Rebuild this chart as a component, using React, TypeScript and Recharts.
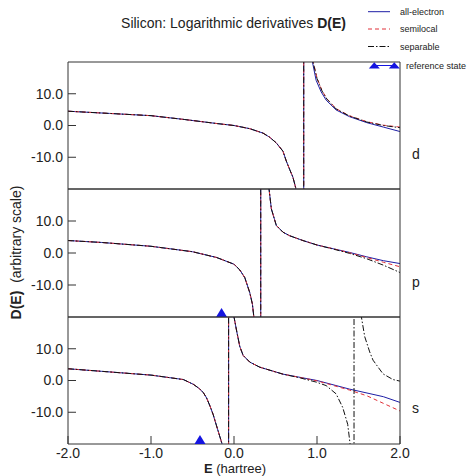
import React from 'react';
import { ComposedChart, Line, Scatter, XAxis, YAxis } from 'recharts';

const FONT = '"Liberation Sans", Arial, Helvetica, sans-serif';
const FRAME = '#333';
const TEXT = '#222';
const AE_COLOR = '#1e1ea6';
const SL_COLOR = '#e03038';
const SEP_COLOR = '#111';
const REF_COLOR = '#1414e0';

const xDomain = [-2, 2];
const yDomain = [-20, 20];
const yTicks = [-10, 0, 10];
const xInnerTicks = [-1, 0, 1];
const xLabelTicks = [-2, -1, 0, 1, 2];
const panelNames = ['d', 'p', 's'];
const legendLabels = ['all-electron', 'semilocal', 'separable', 'reference state'];

// ---- d channel ----
const dAllElectron = [
  { e: -2.0, d: 4.5 }, { e: -1.5, d: 3.8 }, { e: -1.0, d: 3.1 }, { e: -0.6, d: 1.9 },
  { e: -0.2, d: 0.6 }, { e: 0.0, d: 0.0 }, { e: 0.19, d: -1.0 }, { e: 0.35, d: -2.4 },
  { e: 0.43, d: -3.7 }, { e: 0.51, d: -5.5 }, { e: 0.59, d: -8.1 }, { e: 0.63, d: -11.2 },
  { e: 0.67, d: -13.8 }, { e: 0.71, d: -16.3 }, { e: 0.743, d: -19.6 }, { e: 0.79, d: -30 },
  { e: 0.84, d: -45 }, { e: 0.84, d: 45 }, { e: 0.9, d: 30 }, { e: 0.945, d: 20 },
  { e: 0.99, d: 14.2 }, { e: 1.05, d: 10.6 }, { e: 1.11, d: 8.0 }, { e: 1.23, d: 4.9 },
  { e: 1.39, d: 2.8 }, { e: 1.6, d: 0.9 }, { e: 1.8, d: -0.5 }, { e: 2.0, d: -1.9 },
];
const dSemilocal = [
  { e: -2.0, d: 4.5 }, { e: -1.5, d: 3.8 }, { e: -1.0, d: 3.1 }, { e: -0.6, d: 1.9 },
  { e: -0.2, d: 0.6 }, { e: 0.0, d: 0.0 }, { e: 0.19, d: -1.0 }, { e: 0.35, d: -2.4 },
  { e: 0.43, d: -3.7 }, { e: 0.51, d: -5.5 }, { e: 0.59, d: -8.1 }, { e: 0.63, d: -11.2 },
  { e: 0.67, d: -13.8 }, { e: 0.71, d: -16.3 }, { e: 0.743, d: -19.6 }, { e: 0.79, d: -30 },
  { e: 0.84, d: -45 }, { e: 0.84, d: 45 }, { e: 0.9, d: 31 }, { e: 0.955, d: 20 },
  { e: 1.0, d: 15.0 }, { e: 1.06, d: 11.0 }, { e: 1.12, d: 8.4 }, { e: 1.23, d: 5.3 },
  { e: 1.39, d: 3.1 }, { e: 1.6, d: 1.2 }, { e: 1.8, d: 0.1 }, { e: 2.0, d: -0.5 },
];
const dSeparable = [
  { e: -2.0, d: 4.5 }, { e: -1.5, d: 3.8 }, { e: -1.0, d: 3.1 }, { e: -0.6, d: 1.9 },
  { e: -0.2, d: 0.6 }, { e: 0.0, d: 0.0 }, { e: 0.19, d: -1.0 }, { e: 0.35, d: -2.4 },
  { e: 0.43, d: -3.7 }, { e: 0.51, d: -5.5 }, { e: 0.59, d: -8.1 }, { e: 0.63, d: -11.2 },
  { e: 0.67, d: -13.8 }, { e: 0.71, d: -16.3 }, { e: 0.743, d: -19.6 }, { e: 0.79, d: -30 },
  { e: 0.84, d: -45 }, { e: 0.84, d: 45 }, { e: 0.9, d: 31 }, { e: 0.952, d: 20 },
  { e: 1.0, d: 14.8 }, { e: 1.06, d: 10.9 }, { e: 1.12, d: 8.3 }, { e: 1.23, d: 5.2 },
  { e: 1.39, d: 3.0 }, { e: 1.6, d: 1.1 }, { e: 1.8, d: 0.0 }, { e: 2.0, d: -0.7 },
];

// ---- p channel ----
const pAllElectron = [
  { e: -2.0, d: 3.9 }, { e: -1.6, d: 3.3 }, { e: -1.0, d: 2.1 }, { e: -0.5, d: 0.4 },
  { e: -0.21, d: -1.4 }, { e: 0.0, d: -3.5 }, { e: 0.07, d: -5.3 }, { e: 0.13, d: -7.7 },
  { e: 0.19, d: -12.4 }, { e: 0.222, d: -16.0 }, { e: 0.24, d: -20.2 }, { e: 0.28, d: -35 },
  { e: 0.322, d: -50 }, { e: 0.322, d: 50 }, { e: 0.38, d: 32 }, { e: 0.422, d: 20 },
  { e: 0.45, d: 13.8 }, { e: 0.51, d: 8.6 }, { e: 0.59, d: 6.5 }, { e: 0.67, d: 5.4 },
  { e: 0.83, d: 3.9 }, { e: 1.0, d: 2.5 }, { e: 1.2, d: 1.3 }, { e: 1.39, d: 0.2 },
  { e: 1.6, d: -1.2 }, { e: 1.8, d: -2.4 }, { e: 2.0, d: -3.3 },
];
const pSemilocal = [
  { e: -2.0, d: 3.9 }, { e: -1.6, d: 3.3 }, { e: -1.0, d: 2.1 }, { e: -0.5, d: 0.4 },
  { e: -0.21, d: -1.4 }, { e: 0.0, d: -3.5 }, { e: 0.07, d: -5.3 }, { e: 0.13, d: -7.7 },
  { e: 0.19, d: -12.4 }, { e: 0.222, d: -16.0 }, { e: 0.24, d: -20.2 }, { e: 0.28, d: -35 },
  { e: 0.322, d: -50 }, { e: 0.322, d: 50 }, { e: 0.38, d: 32 }, { e: 0.422, d: 20 },
  { e: 0.45, d: 13.8 }, { e: 0.51, d: 8.6 }, { e: 0.59, d: 6.5 }, { e: 0.67, d: 5.4 },
  { e: 0.83, d: 3.9 }, { e: 1.0, d: 2.5 }, { e: 1.2, d: 1.3 }, { e: 1.39, d: 0.1 },
  { e: 1.6, d: -1.4 }, { e: 1.8, d: -2.9 }, { e: 2.0, d: -4.3 },
];
const pSeparable = [
  { e: -2.0, d: 3.9 }, { e: -1.6, d: 3.3 }, { e: -1.0, d: 2.1 }, { e: -0.5, d: 0.4 },
  { e: -0.21, d: -1.4 }, { e: 0.0, d: -3.5 }, { e: 0.07, d: -5.3 }, { e: 0.13, d: -7.7 },
  { e: 0.19, d: -12.4 }, { e: 0.222, d: -16.0 }, { e: 0.24, d: -20.2 }, { e: 0.28, d: -35 },
  { e: 0.322, d: -50 }, { e: 0.322, d: 50 }, { e: 0.38, d: 32 }, { e: 0.422, d: 20 },
  { e: 0.45, d: 13.8 }, { e: 0.51, d: 8.6 }, { e: 0.59, d: 6.5 }, { e: 0.67, d: 5.4 },
  { e: 0.83, d: 3.9 }, { e: 1.0, d: 2.5 }, { e: 1.2, d: 1.2 }, { e: 1.39, d: -0.1 },
  { e: 1.6, d: -1.8 }, { e: 1.8, d: -3.8 }, { e: 2.0, d: -6.1 },
];

// ---- s channel ----
const sAllElectron = [
  { e: -2.0, d: 3.7 }, { e: -1.6, d: 2.9 }, { e: -1.0, d: 1.7 }, { e: -0.61, d: 0.3 },
  { e: -0.49, d: -1.2 }, { e: -0.42, d: -2.5 }, { e: -0.37, d: -3.8 }, { e: -0.33, d: -5.5 },
  { e: -0.29, d: -8.0 }, { e: -0.25, d: -10.8 }, { e: -0.21, d: -14.3 }, { e: -0.175, d: -17.3 },
  { e: -0.14, d: -20.3 }, { e: -0.1, d: -32 }, { e: -0.065, d: -50 }, { e: -0.065, d: 50 },
  { e: -0.03, d: 32 }, { e: 0.0, d: 20 }, { e: 0.035, d: 15.2 }, { e: 0.07, d: 10.7 },
  { e: 0.11, d: 7.9 }, { e: 0.19, d: 5.8 }, { e: 0.31, d: 4.2 }, { e: 0.59, d: 2.0 },
  { e: 1.0, d: 0.0 }, { e: 1.39, d: -2.7 }, { e: 1.8, d: -5.1 }, { e: 2.0, d: -6.9 },
];
const sSemilocal = [
  { e: -2.0, d: 3.7 }, { e: -1.6, d: 2.9 }, { e: -1.0, d: 1.7 }, { e: -0.61, d: 0.3 },
  { e: -0.49, d: -1.2 }, { e: -0.42, d: -2.5 }, { e: -0.37, d: -3.8 }, { e: -0.33, d: -5.5 },
  { e: -0.29, d: -8.0 }, { e: -0.25, d: -10.8 }, { e: -0.21, d: -14.3 }, { e: -0.175, d: -17.3 },
  { e: -0.14, d: -20.3 }, { e: -0.1, d: -32 }, { e: -0.065, d: -50 }, { e: -0.065, d: 50 },
  { e: -0.03, d: 32 }, { e: 0.0, d: 20 }, { e: 0.035, d: 15.2 }, { e: 0.07, d: 10.7 },
  { e: 0.11, d: 7.9 }, { e: 0.19, d: 5.8 }, { e: 0.31, d: 4.2 }, { e: 0.59, d: 2.0 },
  { e: 1.0, d: -0.1 }, { e: 1.39, d: -3.0 }, { e: 1.6, d: -4.8 }, { e: 1.8, d: -7.2 },
  { e: 2.0, d: -9.6 },
];
const sSeparable = [
  { e: -2.0, d: 3.7 }, { e: -1.6, d: 2.9 }, { e: -1.0, d: 1.7 }, { e: -0.61, d: 0.3 },
  { e: -0.49, d: -1.2 }, { e: -0.42, d: -2.5 }, { e: -0.37, d: -3.8 }, { e: -0.33, d: -5.5 },
  { e: -0.29, d: -8.0 }, { e: -0.25, d: -10.8 }, { e: -0.21, d: -14.3 }, { e: -0.175, d: -17.3 },
  { e: -0.14, d: -20.3 }, { e: -0.1, d: -32 }, { e: -0.065, d: -50 }, { e: -0.065, d: 50 },
  { e: -0.03, d: 32 }, { e: 0.0, d: 20 }, { e: 0.035, d: 15.2 }, { e: 0.07, d: 10.7 },
  { e: 0.11, d: 7.9 }, { e: 0.19, d: 5.8 }, { e: 0.31, d: 4.2 }, { e: 0.59, d: 2.0 },
  { e: 0.8, d: 0.8 }, { e: 0.99, d: -0.5 }, { e: 1.11, d: -1.6 }, { e: 1.23, d: -4.2 },
  { e: 1.31, d: -8.5 }, { e: 1.37, d: -13.8 }, { e: 1.40, d: -20.3 }, { e: 1.42, d: -32 },
  { e: 1.446, d: -50 }, { e: 1.446, d: 50 }, { e: 1.49, d: 32 }, { e: 1.535, d: 20 },
  { e: 1.575, d: 13.8 }, { e: 1.635, d: 9.0 }, { e: 1.675, d: 6.4 }, { e: 1.795, d: 2.1 },
  { e: 1.915, d: 0.3 }, { e: 2.0, d: -0.2 },
];

// reference state energies
const dReference: { e: number; d: number }[] = [];
const pReference = [{ e: -0.15, d: -20 }];
const sReference = [{ e: -0.41, d: -20 }];

const fmt = (v: number) => v.toFixed(1);

const Triangle = (props: any) => {
  const { cx, cy } = props;
  if (cx == null || cy == null) return null;
  return (
    <polygon
      points={`${cx - 5.5},${cy} ${cx + 5.5},${cy} ${cx},${cy - 9}`}
      fill={REF_COLOR}
    />
  );
};

type PanelProps = {
  top: number;
  plotHeight: number;
  showXLabels: boolean;
  ae: { e: number; d: number }[];
  sl: { e: number; d: number }[];
  sep: { e: number; d: number }[];
  refs: { e: number; d: number }[];
};

function Panel({ top, plotHeight, showXLabels, ae, sl, sep, refs }: PanelProps) {
  const topH = 10;
  const bottomH = showXLabels ? 32 : 10;
  const tickStyle = { fontSize: 14, fill: TEXT, fontFamily: FONT };
  return (
    <div style={{ position: 'absolute', left: 0, top: top - topH }}>
      <ComposedChart
        width={472}
        height={topH + plotHeight + bottomH}
        margin={{ top: 0, right: 0, bottom: 0, left: 0 }}
      >
        <XAxis
          xAxisId="b"
          dataKey="e"
          type="number"
          domain={xDomain}
          allowDataOverflow
          ticks={showXLabels ? xLabelTicks : xInnerTicks}
          interval={0}
          orientation="bottom"
          height={bottomH}
          tickSize={-8}
          tickMargin={12}
          tick={showXLabels ? tickStyle : false}
          tickFormatter={fmt}
          stroke={FRAME}
        />
        <XAxis
          xAxisId="t"
          type="number"
          domain={xDomain}
          allowDataOverflow
          ticks={xInnerTicks}
          interval={0}
          orientation="top"
          height={topH}
          tickSize={-8}
          tick={false}
          stroke={FRAME}
        />
        <YAxis
          yAxisId="l"
          dataKey="d"
          type="number"
          domain={yDomain}
          allowDataOverflow
          ticks={yTicks}
          interval={0}
          width={68}
          tickSize={-8}
          tickMargin={13}
          tick={tickStyle}
          tickFormatter={fmt}
          stroke={FRAME}
        />
        <YAxis
          yAxisId="r"
          orientation="right"
          type="number"
          domain={yDomain}
          allowDataOverflow
          ticks={yTicks}
          interval={0}
          width={72}
          tickSize={-8}
          tick={false}
          stroke={FRAME}
        />
        <Line
          xAxisId="b"
          yAxisId="l"
          data={ae}
          dataKey="d"
          type="linear"
          stroke={AE_COLOR}
          strokeWidth={1}
          dot={false}
          activeDot={false}
          isAnimationActive={false}
        />
        <Line
          xAxisId="b"
          yAxisId="l"
          data={sl}
          dataKey="d"
          type="linear"
          stroke={SL_COLOR}
          strokeWidth={1}
          strokeDasharray="4 3"
          dot={false}
          activeDot={false}
          isAnimationActive={false}
        />
        <Line
          xAxisId="b"
          yAxisId="l"
          data={sep}
          dataKey="d"
          type="linear"
          stroke={SEP_COLOR}
          strokeWidth={1}
          strokeDasharray="6 2 1.5 2"
          dot={false}
          activeDot={false}
          isAnimationActive={false}
        />
        {refs.length > 0 && (
          <Scatter
            xAxisId="b"
            yAxisId="l"
            data={refs}
            dataKey="d"
            shape={Triangle}
            isAnimationActive={false}
          />
        )}
      </ComposedChart>
    </div>
  );
}

export default function App() {
  const legendX0 = 368;
  const legendX1 = 390;
  const legendTextX = 400;
  const legendRows = [11.7, 29, 46.5];
  return (
    <div
      style={{
        position: 'absolute',
        left: 0,
        top: 0,
        width: 472,
        height: 476,
        background: '#fff',
        fontFamily: FONT,
        overflow: 'hidden',
      }}
    >
      <Panel top={62} plotHeight={127} showXLabels={false} ae={dAllElectron} sl={dSemilocal} sep={dSeparable} refs={dReference} />
      <Panel top={189} plotHeight={128} showXLabels={false} ae={pAllElectron} sl={pSemilocal} sep={pSeparable} refs={pReference} />
      <Panel top={317} plotHeight={127} showXLabels={true} ae={sAllElectron} sl={sSemilocal} sep={sSeparable} refs={sReference} />
      <svg
        width={472}
        height={476}
        style={{ position: 'absolute', left: 0, top: 0, pointerEvents: 'none' }}
        fontFamily={FONT}
      >
        <text x={233.5} y={28} textAnchor="middle" fontSize={14} fill={TEXT}>
          Silicon: Logarithmic derivatives <tspan fontWeight="bold">D(E)</tspan>
        </text>
        {/* legend */}
        <line x1={legendX0} x2={legendX1} y1={legendRows[0]} y2={legendRows[0]} stroke={AE_COLOR} strokeWidth={1} />
        <line x1={legendX0} x2={legendX1} y1={legendRows[1]} y2={legendRows[1]} stroke={SL_COLOR} strokeWidth={1} strokeDasharray="4 3" />
        <line x1={legendX0} x2={legendX1} y1={legendRows[2]} y2={legendRows[2]} stroke={SEP_COLOR} strokeWidth={1} strokeDasharray="6 2 1.5 2" />
        {legendLabels.slice(0, 3).map((lab, i) => (
          <text key={lab} x={legendTextX} y={legendRows[i] + 3.2} fontSize={9} fill={TEXT}>
            {lab}
          </text>
        ))}
        <line x1={374.3} x2={394.3} y1={65.5} y2={65.5} stroke={REF_COLOR} strokeWidth={1} />
        <polygon points="368.8,68.5 379.8,68.5 374.3,62.3" fill={REF_COLOR} />
        <polygon points="388.8,68.5 399.8,68.5 394.3,62.3" fill={REF_COLOR} />
        <text x={406} y={69} fontSize={9} fill={TEXT}>
          {legendLabels[3]}
        </text>
        {/* panel labels */}
        <text x={412} y={159} fontSize={14} fill={TEXT}>{panelNames[0]}</text>
        <text x={412} y={287} fontSize={14} fill={TEXT}>{panelNames[1]}</text>
        <text x={412} y={413} fontSize={14} fill={TEXT}>{panelNames[2]}</text>
        {/* axis titles */}
        <text x={21} y={252.5} transform="rotate(-90 21 252.5)" textAnchor="middle" fontSize={14} fill={TEXT}>
          <tspan fontWeight="bold">D(E)</tspan>
          <tspan>{'\u00a0\u00a0(arbitrary scale)'}</tspan>
        </text>
        <text x={235} y={473} textAnchor="middle" fontSize={13} fill={TEXT}>
          <tspan fontWeight="bold">E</tspan>
          <tspan>{'\u00a0(hartree)'}</tspan>
        </text>
      </svg>
    </div>
  );
}
